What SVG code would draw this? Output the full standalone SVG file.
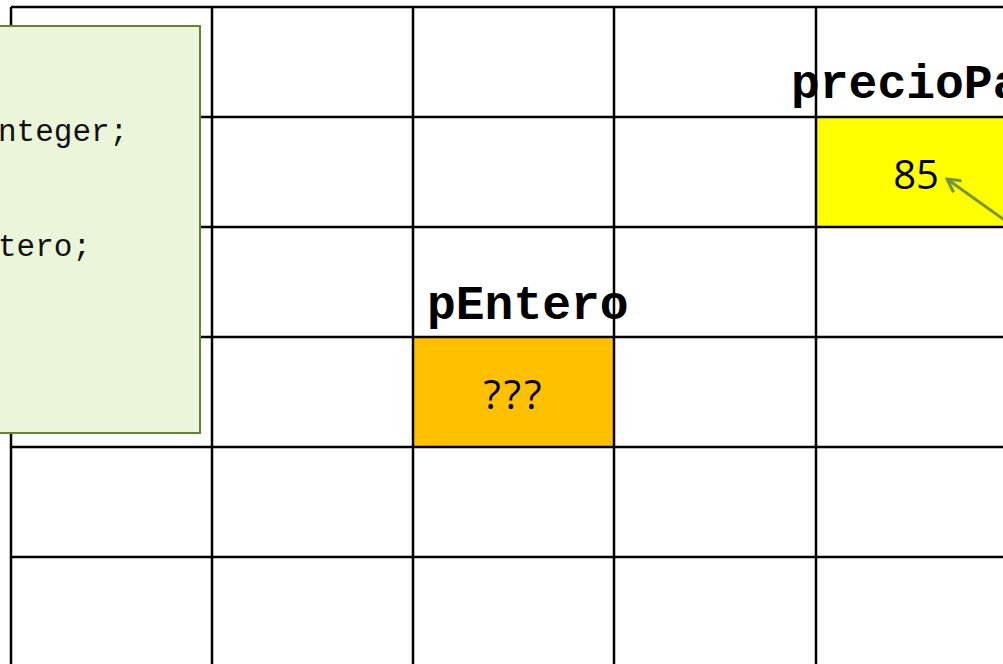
<svg xmlns="http://www.w3.org/2000/svg" width="1003" height="664" viewBox="0 0 1003 664">
<defs>
<style>
.grid{stroke:#000;stroke-width:2.5;fill:none}
.lbl{font-family:"Liberation Mono","Courier New",monospace;font-weight:bold;font-size:48px;fill:#000}
.val{font-family:"Open Sans","Noto Sans",sans-serif;font-size:40px;fill:#000;text-anchor:middle}
.code{font-family:"Liberation Mono","Courier New",monospace;font-size:31px;fill:#111}
</style>
<marker id="arr" markerWidth="16" markerHeight="16" refX="14" refY="8" orient="auto" markerUnits="userSpaceOnUse">
<path d="M1,1 L14,8 L1,15" fill="none" stroke="#77933C" stroke-width="3"/>
</marker>
</defs>
<rect x="0" y="0" width="1003" height="664" fill="#fff"/>
<g id="cell-precioPan">
<rect x="816" y="117" width="200" height="110" fill="#FFFF00"/>
</g>
<g id="cell-pEntero">
<rect x="413" y="337" width="201" height="110" fill="#FFC000"/>
</g>
<g id="grid" class="grid">
<path d="M11,7 V664 M212,7 V664 M413,7 V664 M614,7 V664 M816,7 V664"/>
<path d="M11,7 H1003 M11,117 H1003 M11,227 H1003 M11,337 H1003 M11,447 H1003 M11,557 H1003"/>
</g>
<g id="node-precioPan">
<text class="lbl" x="791" y="98">precioPan</text>
<text class="val" x="916" y="189">85</text>
</g>
<g id="node-pEntero">
<text class="lbl" x="427" y="319">pEntero</text>
<text class="val" x="514" y="409" font-size="42" letter-spacing="3">???</text>
</g>
<g id="code-box">
<rect x="-10" y="26" width="210" height="407" fill="#EBF5DA" stroke="#62842F" stroke-width="2"/>
<text class="code" x="-2" y="141">nteger;</text>
<text class="code" x="-2" y="256">tero;</text>
</g>
<g id="connectors">
<line x1="1010" y1="224" x2="947" y2="179" stroke="#77933C" stroke-width="3" marker-end="url(#arr)"/>
</g>
</svg>
